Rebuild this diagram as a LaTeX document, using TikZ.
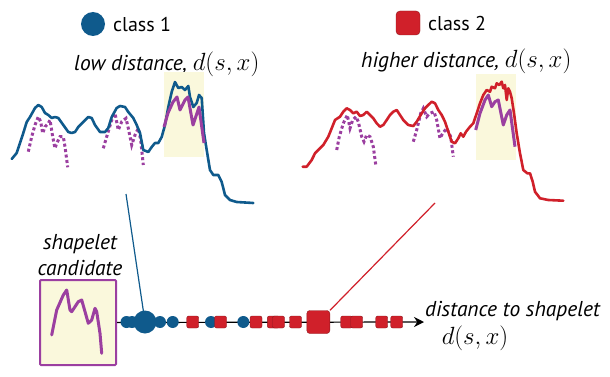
\documentclass[tikz,border=0pt]{standalone}
\usepackage{amsmath}
\usepackage{fontspec}
\setsansfont{PT Sans}
\usepackage{tikz}
\usetikzlibrary{arrows.meta}
\definecolor{ClassBlue}{HTML}{0F5A8C}
\definecolor{ClassRed}{HTML}{D0202A}
\definecolor{ClassRedDark}{HTML}{8E1A1F}
\definecolor{ShapeletPurple}{HTML}{9B3FA0}
\definecolor{MatchYellow}{HTML}{FAF8DC}

\tikzset{
  series/.style={line width=2.6pt,line join=round,line cap=round},
  fitted/.style={ShapeletPurple,line width=3pt,line join=round},
  sliding/.style={ShapeletPurple,line width=3pt,dash pattern=on 3pt off 2.5pt},
  match/.style={fill=MatchYellow,draw=none},
  dotone/.style={circle,fill=ClassBlue,inner sep=0pt,minimum size=12pt},
  sqtwo/.style={rectangle,rounded corners=2pt,fill=ClassRed,draw=ClassRedDark,line width=0.4pt,inner sep=0pt,minimum size=12pt},
  lbl/.style={font=\sffamily\fontsize{20}{24}\selectfont,inner sep=0pt},
  ilbl/.style={lbl,font=\sffamily\itshape\fontsize{21.5}{26}\selectfont}
}

\begin{document}
\begin{tikzpicture}[>=Stealth,x=1pt,y=-1pt]
  \useasboundingbox (0,0) rectangle (610,377);
  % legend
  \node[dotone,minimum size=24pt] (leg1) at (93,24) {};
  \node[lbl,anchor=west] (leg1txt) at (113,25) {class 1};
  \node[sqtwo,minimum size=24pt,rounded corners=4pt] (leg2) at (408,23) {};
  \node[lbl,anchor=west] (leg2txt) at (428,24) {class 2};
  \node[ilbl,anchor=west] (lowtxt) at (74,64) {low distance, {\fontsize{25}{28}\selectfont$d(s,x)$}};
  \node[ilbl,anchor=west] (hightxt) at (361,61) {higher distance, {\fontsize{25}{28}\selectfont$d(s,x)$}};

  % class 1 series
  \fill[match] (164,72) rectangle (204,157);
  \draw[sliding] plot coordinates {(28.3,151.7) (31.7,136.7) (35,125) (38.3,116.7) (40.7,121.7) (42.7,133.3) (45,126.7) (48.3,123.3) (50,120) (52.7,136.7) (55,148.3) (56.7,143.3) (60,136.7) (63.3,136.7) (65,146.7) (67.7,167.3)};
  \draw[sliding] plot coordinates {(103.3,148.3) (106.7,136.7) (111.7,120) (115,113.3) (118.3,130) (121.7,121.7) (126,118.3) (128.3,128.3) (131.7,145) (135,135) (138.3,128.3) (140.7,140) (143.3,165)};
  \draw[series,ClassBlue] plot coordinates {(11.7,159) (16.7,153) (23.3,133) (26.7,122) (30,117) (35,108) (38.3,105) (41.7,107) (45,113) (48.3,115) (51.7,118) (55,117) (58.3,118) (63.3,125) (68.3,132) (71.7,133) (75,132) (78.3,127) (83.3,122) (88.3,117) (91.7,118) (95,125) (100,132) (105,132) (108.3,128) (111.7,117) (116.7,108) (120,106) (125,107) (128.3,112) (133.3,118) (136.7,125) (140,133) (143.3,150) (148.3,152) (151.7,147) (155,143) (158.3,143) (161.7,137) (165,125) (168.3,107) (171.7,92) (175,82) (178.3,88) (181.7,87) (185,90) (188.3,86) (190,97) (193.3,107) (196.7,103) (199,95) (201.7,98) (204,133) (206.7,150) (210,170) (213.3,175) (218.3,175) (221.7,182) (225,195) (230,200) (236.7,202) (253.3,203)};
  \draw[fitted] plot coordinates {(164,127) (168,113) (173,102) (177,97) (180,110) (185,100) (188,97) (193,125) (197,113) (199,107) (204,143)};

  % class 2 series
  \fill[match] (475.7,74) rectangle (515.7,160);
  \draw[sliding] plot coordinates {(336.7,150) (339.3,136.7) (343.3,123.3) (347.3,115) (350,128.3) (352.7,120) (356,116.7) (358.3,121.7) (361.7,136.7) (364,141.7) (366.7,135) (370,136.7) (373.3,146.7) (376,166.7)};
  \draw[sliding] plot coordinates {(413.3,141.7) (416.7,130) (420.7,113.3) (423.3,108.3) (426.7,116.7) (430,113.3) (434,111.7) (436.7,120) (440,138.3) (442.7,133.3) (446.7,128.3) (450.7,136.7) (453.3,156.7)};
  \draw[series,ClassRed] plot coordinates {(302.7,166.7) (306.7,166.7) (311.7,160) (315,153.3) (320,148.3) (323.3,145) (328.3,136.7) (331.7,128.3) (335,120) (340,116.7) (343.3,111.7) (346.7,108.3) (350,110) (353.3,113.3) (356.7,111.7) (360,116) (363.3,115) (366.7,111.7) (370,115) (373.3,118.3) (376.7,123.3) (380,126.7) (383.3,125) (386.7,120) (390,115) (393.3,111.7) (396.7,110) (400,115) (403.3,120) (408.3,125) (413.3,126) (416.7,121.7) (421.7,113.3) (425,108.3) (428.3,105) (431.7,101.7) (435,103.3) (438.3,110) (441.7,115) (445,121.7) (448.3,131.7) (451.7,141.7) (455,143.3) (458.3,138.3) (460.7,133.3) (463.3,136.7) (466,131.7) (470,126.7) (473.3,123.3) (476.7,113.3) (480,103.3) (483.3,95) (486.7,90) (490,91.7) (491.7,86.7) (495,88.3) (496.7,83.3) (499.3,85) (501.7,81.7) (503.3,88.3) (505,85) (506.7,100) (508.3,88.3) (510,91.7) (511.7,98.3) (514,113.3) (516.7,133.3) (520,153.3) (523.3,170) (527.3,173.3) (530,173.3) (532.7,181.7) (535,191.7) (540,198.3) (548.3,200) (563.3,200.7)};
  \draw[fitted] plot coordinates {(475.7,130) (480,113.3) (485,100) (488.3,95) (491.7,106.7) (495,101.7) (498.3,100) (503.3,125) (506.7,115) (510,110) (515,146.7)};

  % shapelet candidate
  \node[ilbl,align=center] (candtxt) at (80,255) {shapelet\\candidate};
  \node[draw=ShapeletPurple,fill=MatchYellow,line width=2pt,rounded corners=1pt,minimum width=76pt,minimum height=85pt,inner sep=0pt] (cand) at (78,322.5) {};
  \draw[fitted,line cap=round] plot coordinates {(51.7,335) (56.7,310) (63.3,295) (66.7,290) (70,310) (71.7,311.7) (78.3,301.7) (81.7,300) (88.3,323.3) (91.7,320) (95,308.3) (96.7,311.7) (100,333.3) (101.7,353.3)};

  % distance axis
  \coordinate (axend) at (424,322);
  \draw[->,line width=1.2pt,>={Stealth[length=10pt,width=10pt]}] (cand.east) -- (axend);
  \foreach \d in {126.5,132,160,172.7,211,243.3}
    \node[dotone] at (\d,322) {};
  \foreach \d in {192.7,220.5,256,273.3,278.5,295.5,346.7,356.7,381.7,396.7}
    \node[sqtwo] at (\d,322) {};
  \node[dotone,minimum size=23pt] (near) at (145,322) {};
  \node[sqtwo,minimum size=23pt,rounded corners=3pt] (far) at (318.3,322) {};
  \node[ilbl,anchor=west] (axtxt) at (425,311) {distance to shapelet};
  \node[lbl] (axmath) at (475,338) {\fontsize{30}{33}\selectfont$d(s,x)$};

  % links to the axis
  \coordinate (nearsrc) at (126,194);
  \coordinate (farsrc) at (435,203);
  \draw[ClassBlue,line width=1.2pt] (nearsrc) -- (near.center);
  \draw[ClassRed,line width=1.2pt] (farsrc) -- (far.north east);
\end{tikzpicture}
\end{document}
